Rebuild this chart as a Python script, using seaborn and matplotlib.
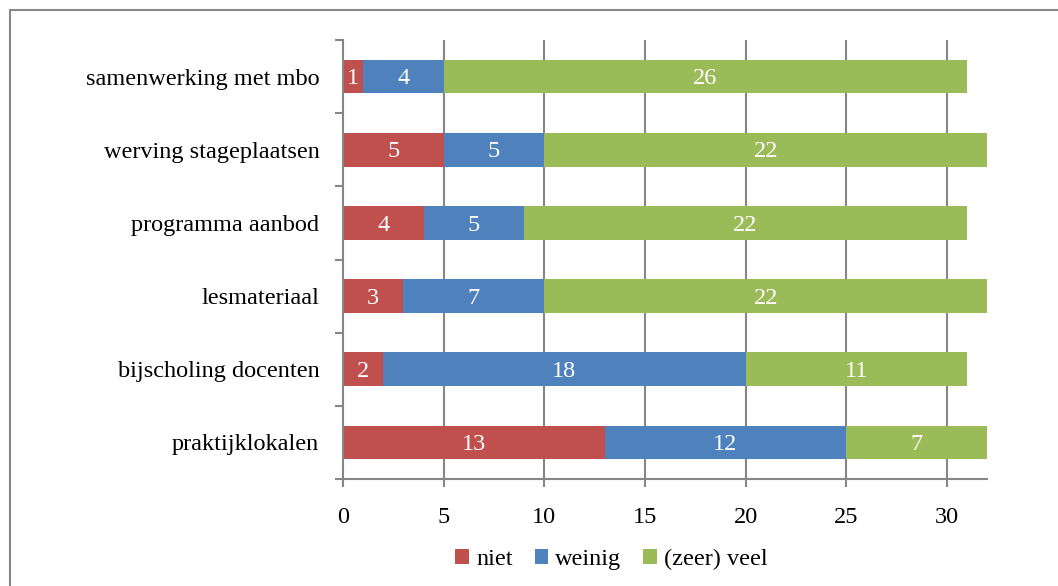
import matplotlib
matplotlib.use('Agg')
import matplotlib.pyplot as plt
from matplotlib.lines import Line2D
from matplotlib.patches import Patch
import numpy as np
import pandas as pd
import seaborn as sns

# data, top category first
categories = ['samenwerking met mbo', 'werving stageplaatsen', 'programma aanbod',
              'lesmateriaal', 'bijscholing docenten', 'praktijklokalen']
niet = [1, 5, 4, 3, 2, 13]
weinig = [4, 5, 5, 7, 18, 12]
veel = [26, 22, 22, 22, 11, 7]
series_names = ['niet', 'weinig', '(zeer) veel']
colors = ['#C0504D', '#4F81BD', '#9BBB59']
x_ticks = [0, 5, 10, 15, 20, 25, 30]

sns.set_style('white')
plt.rcParams['font.family'] = ['Liberation Serif', 'DejaVu Serif']
plt.rcParams['text.color'] = 'black'
fs = 17.5
grid_col = '#868686'

df = pd.DataFrame({'categorie': categories, 'niet': niet,
                   'weinig': weinig, 'veel': veel})
df['cum1'] = df['niet']
df['cum2'] = df['niet'] + df['weinig']
df['cum3'] = df['cum2'] + df['veel']

fig = plt.figure(figsize=(10.58, 5.86), dpi=100)
ax = fig.add_axes([0.3242, 0.1826, 0.6087, 0.7491])

# stacked bars: draw totals first, then overlay the shorter cumulative sums
for col, color in zip(['cum3', 'cum2', 'cum1'], colors[::-1]):
    sns.barplot(data=df, x=col, y='categorie', orient='h', color=color,
                width=0.46, saturation=1, linewidth=0, ax=ax, zorder=3)

# value labels in the middle of each segment
for i, row in df.iterrows():
    starts = [0, row['cum1'], row['cum2']]
    vals = [row['niet'], row['weinig'], row['veel']]
    for s, v in zip(starts, vals):
        ax.text(s + v / 2, i + 0.03, str(v), color='white', fontsize=fs,
                ha='center', va='center', zorder=4)

ax.set_xlim(0, 32)
ax.set_ylim(5.5, -0.5)
ax.set_xticks(x_ticks)
ax.set_xlabel('')
ax.set_ylabel('')

# vertical grid lines
for xv in x_ticks[1:]:
    ax.axvline(xv, color=grid_col, linewidth=1.5, zorder=1)

for side in ['top', 'right']:
    ax.spines[side].set_visible(False)
for side in ['left', 'bottom']:
    ax.spines[side].set_color(grid_col)
    ax.spines[side].set_linewidth(1.5)
    ax.spines[side].set_zorder(5)

ax.tick_params(axis='x', bottom=True, length=6, width=1.5, color=grid_col,
               labelsize=fs, labelcolor='black', pad=14, direction='out')
ax.set_yticks(range(len(categories)))
ax.set_yticklabels(categories)
ax.tick_params(axis='y', which='major', left=True, length=0, labelsize=fs,
               labelcolor='black', pad=17)
ax.set_yticks(np.arange(-0.5, len(categories), 1), minor=True)
ax.tick_params(axis='y', which='minor', left=True, length=6, width=1.5,
               color=grid_col, direction='out')

handles = [Patch(facecolor=c, edgecolor='none') for c in colors]
fig.legend(handles, series_names, loc='center', bbox_to_anchor=(0.578, 0.045),
           ncol=3, frameon=False, fontsize=fs, handlelength=0.55,
           handleheight=0.55, handletextpad=0.3, columnspacing=0.9)

# chart border (only top and left edges are inside the image)
fig.add_artist(Line2D([9.5 / 1058, 9.5 / 1058], [0, 1 - 9.5 / 586],
                      transform=fig.transFigure, color=grid_col, linewidth=1.5))
fig.add_artist(Line2D([9.5 / 1058, 1], [1 - 9.5 / 586, 1 - 9.5 / 586],
                      transform=fig.transFigure, color=grid_col, linewidth=1.5))

fig.savefig('out.png', dpi=100)
